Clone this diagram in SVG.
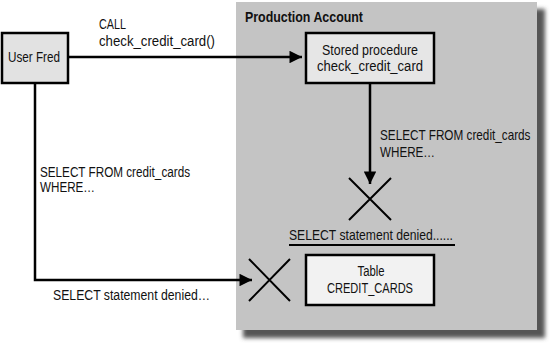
<svg xmlns="http://www.w3.org/2000/svg" width="550" height="343" viewBox="0 0 550 343">
<style>
text{font-family:"Liberation Sans",Arial,sans-serif;font-size:14px;fill:#111}
.box{stroke:#000;stroke-width:2.5}
.ln{stroke:#000;stroke-width:2.5;fill:none}
.x{stroke:#000;stroke-width:2;fill:none}
</style>
<defs>
<marker id="ah" viewBox="0 0 10 10" refX="10" refY="5" markerWidth="7" markerHeight="5" markerUnits="strokeWidth" orient="auto">
<path d="M0,0 L10,5 L0,10 z" fill="#000"/>
</marker>
<filter id="blur" x="-5%" y="-5%" width="110%" height="110%"><feGaussianBlur stdDeviation="2"/></filter>
</defs>
<rect width="550" height="343" fill="#fff"/>
<g id="production-account">
<rect x="243" y="9" width="302" height="329" fill="#555" filter="url(#blur)"/>
<rect x="236" y="2" width="301" height="328" fill="#c4c4c4"/>
<text x="245" y="22" font-weight="bold" textLength="118" lengthAdjust="spacingAndGlyphs">Production Account</text>
</g>
<g id="connectors">
<path class="ln" d="M68,57 H302" marker-end="url(#ah)"/>
<path class="ln" d="M370,83 V184" marker-end="url(#ah)"/>
<path class="ln" d="M35,83 V280 H252" marker-end="url(#ah)"/>
<text x="99" y="29" textLength="27" lengthAdjust="spacingAndGlyphs">CALL</text>
<text x="99" y="46" textLength="116" lengthAdjust="spacingAndGlyphs">check_credit_card()</text>
<text transform="translate(380,140) scale(0.84,1)">SELECT FROM credit_cards</text>
<text x="380" y="157" textLength="55" lengthAdjust="spacingAndGlyphs">WHERE…</text>
<text x="40" y="177" textLength="150" lengthAdjust="spacingAndGlyphs">SELECT FROM credit_cards</text>
<text x="40" y="192" textLength="55" lengthAdjust="spacingAndGlyphs">WHERE…</text>
<text x="53" y="300" textLength="157" lengthAdjust="spacingAndGlyphs">SELECT statement denied…</text>
</g>
<g id="deny-procedure">
<path class="x" d="M349,178 L391,220 M391,178 L349,220"/>
<text x="289" y="240" textLength="164" lengthAdjust="spacingAndGlyphs">SELECT statement denied......</text>
<path d="M289,245 H455" stroke="#000" stroke-width="2"/>
</g>
<g id="deny-user">
<path class="x" d="M249,259 L290,301 M290,259 L249,301"/>
</g>
<g id="user-fred">
<rect class="box" x="2" y="33" width="66" height="50" fill="#e2e2e2"/>
<text x="34" y="62" text-anchor="middle" textLength="52" lengthAdjust="spacingAndGlyphs">User Fred</text>
</g>
<g id="stored-procedure">
<rect class="box" x="306" y="33" width="128" height="50" fill="#e6e6e6"/>
<text x="370" y="55" text-anchor="middle" textLength="96" lengthAdjust="spacingAndGlyphs">Stored procedure</text>
<text x="370" y="71" text-anchor="middle" textLength="106" lengthAdjust="spacingAndGlyphs">check_credit_card</text>
</g>
<g id="table-credit-cards">
<rect class="box" x="306" y="255" width="128" height="50" fill="#f2f2f2"/>
<text x="371" y="276" text-anchor="middle" textLength="27" lengthAdjust="spacingAndGlyphs">Table</text>
<text x="370" y="293" text-anchor="middle" textLength="86" lengthAdjust="spacingAndGlyphs">CREDIT_CARDS</text>
</g>
</svg>
